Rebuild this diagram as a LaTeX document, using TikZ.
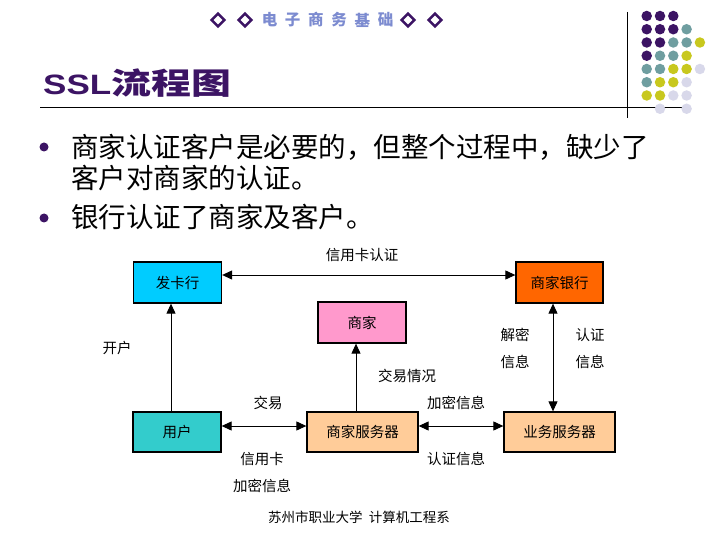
\documentclass[tikz,border=0pt]{standalone}
\usepackage{fontspec}
\usepackage{graphicx}
\setmainfont{Liberation Sans}
\newfontfamily\cjk{Noto Sans CJK SC}
\usetikzlibrary{arrows.meta}
\definecolor{dpurple}{HTML}{3C1464}
\definecolor{dteal}{HTML}{6F9EA0}
\definecolor{dyellow}{HTML}{C8C81E}
\definecolor{dlav}{HTML}{D8D8EA}
\definecolor{hdrblue}{HTML}{7C8BD0}
\definecolor{cfk}{HTML}{00CCFF}
\definecolor{csj}{HTML}{FF99CC}
\definecolor{cyh}{HTML}{FF6600}
\definecolor{cuser}{HTML}{33CCCC}
\definecolor{cserv}{HTML}{FFCC99}
\begin{document}
\begin{tikzpicture}[x=1pt,y=-1pt,
  box/.style={draw=black, line width=1.3pt, minimum height=40pt, inner sep=0pt,
    font=\cjk\fontsize{14.5}{14.5}\selectfont},
  lbl/.style={inner sep=0pt, font=\cjk\fontsize{14.5}{14.5}\selectfont},
  tip/.tip={Triangle[length=10pt,width=9pt]},
  arr/.style={line width=1pt, -tip},
  biarr/.style={line width=1pt, tip-tip},
  dmd/.style={draw=dpurple, line width=2.4pt, shape=rectangle, minimum size=9pt, inner sep=0pt, rotate=45},
  dot/.style={circle, inner sep=0pt, minimum size=10.5pt},
  bul/.style={circle, fill=dpurple, inner sep=0pt, minimum size=9pt},
  btxt/.style={anchor=west, inner sep=0pt, font=\cjk\fontsize{27.5}{27.5}\selectfont}]
\useasboundingbox[fill=white] (0,0) rectangle (720,540);

% header
\node[dmd] (d1) at (218,20) {};
\node[dmd] (d2) at (245,20) {};
\node[dmd] (d3) at (408,20) {};
\node[dmd] (d4) at (435,20) {};
\foreach \c [count=\i from 0] in {电,子,商,务,基,础}{
  \node[inner sep=0pt, text=hdrblue, font=\cjk\bfseries\fontsize{15.5}{15.5}\selectfont] (h\i) at (269.5+23.2*\i,20) {\c};
}

% frame lines
\coordinate (vt) at (627,12);
\coordinate (vb) at (627,118);
\draw[line width=1pt] (vt) -- (vb);
\coordinate (hl) at (40,108);
\coordinate (hr) at (684,108);
\draw[line width=1pt] (hl) -- (hr);

% dot grid
\foreach \r/\cols in {0/{1/dpurple,2/dpurple,3/dpurple},
  1/{1/dpurple,2/dpurple,3/dpurple,4/dteal},
  2/{1/dpurple,2/dpurple,3/dteal,4/dteal,5/dyellow},
  3/{1/dpurple,2/dteal,3/dteal,4/dyellow},
  4/{1/dteal,2/dteal,3/dyellow,4/dyellow,5/dlav},
  5/{1/dteal,2/dyellow,3/dyellow,4/dlav},
  6/{1/dyellow,2/dyellow,3/dlav,4/dlav},
  7/{2/dlav,4/dlav}}{
  \foreach \k/\col in \cols {
    \node[dot, fill=\col] (g\r\k) at (633.4+13.3*\k,16+13.25*\r) {};
  }
}

% title
\node[anchor=base west, inner sep=0pt, text=dpurple] (title) at (43,95)
  {\scalebox{1.25}[1]{\fontsize{28}{28}\selectfont\bfseries SSL}\scalebox{1.33}[1]{\cjk\bfseries\fontsize{30}{30}\selectfont 流程图}};

% bullets
\node[bul] (b1) at (44,147) {};
\node[bul] (b2) at (44,218) {};
\node[btxt] (t1) at (71,147) {商家认证客户是必要的，但整个过程中，缺少了};
\node[btxt] (t2) at (71,178) {客户对商家的认证。};
\node[btxt] (t3) at (71,217) {银行认证了商家及客户。};

% boxes
\node[box, fill=cfk, minimum width=88pt, minimum height=41pt] (fk) at (177.5,282.5) {发卡行};
\node[box, fill=csj, minimum width=88pt, minimum height=41pt] (sj) at (362,322.5) {商家};
\node[box, fill=cyh, minimum width=87pt, minimum height=41pt] (sjyh) at (559.5,282.5) {商家银行};
\node[box, fill=cuser, minimum width=88pt] (yh) at (177,432) {用户};
\node[box, fill=cserv, minimum width=111pt] (sjfw) at (362.5,432) {商家服务器};
\node[box, fill=cserv, minimum width=111pt] (ywfw) at (559.5,432) {业务服务器};

% connectors
\coordinate (y1) at (0,275);
\coordinate (y2) at (0,426);
\coordinate (x1) at (171,0);
\coordinate (x2) at (356,0);
\coordinate (x3) at (553,0);
\draw[biarr] (fk.east |- y1) -- (sjyh.west |- y1);
\draw[arr] (yh.north -| x1) -- (fk.south -| x1);
\draw[arr] (sjfw.north -| x2) -- (sj.south -| x2);
\draw[biarr] (yh.east |- y2) -- (sjfw.west |- y2);
\draw[biarr] (sjfw.east |- y2) -- (ywfw.west |- y2);
\draw[biarr] (sjyh.south -| x3) -- (ywfw.north -| x3);

% labels
\node[lbl] (l1) at (362,255) {信用卡认证};
\node[lbl] (l2) at (117,348) {开户};
\node[lbl] (l3) at (407,376) {交易情况};
\node[lbl] (l4) at (268,403) {交易};
\node[lbl] (l5) at (262,459) {信用卡};
\node[lbl] (l6) at (262,486) {加密信息};
\node[lbl] (l7) at (456,403) {加密信息};
\node[lbl] (l8) at (456,459) {认证信息};
\node[lbl] (l9) at (515,335) {解密};
\node[lbl] (l10) at (515,362) {信息};
\node[lbl] (l11) at (590,335) {认证};
\node[lbl] (l12) at (590,362) {信息};

% footer
\node[inner sep=0pt, font=\cjk\fontsize{13.5}{13.5}\selectfont] (foot) at (359,517) {苏州市职业大学\ \ 计算机工程系};
\end{tikzpicture}
\end{document}
